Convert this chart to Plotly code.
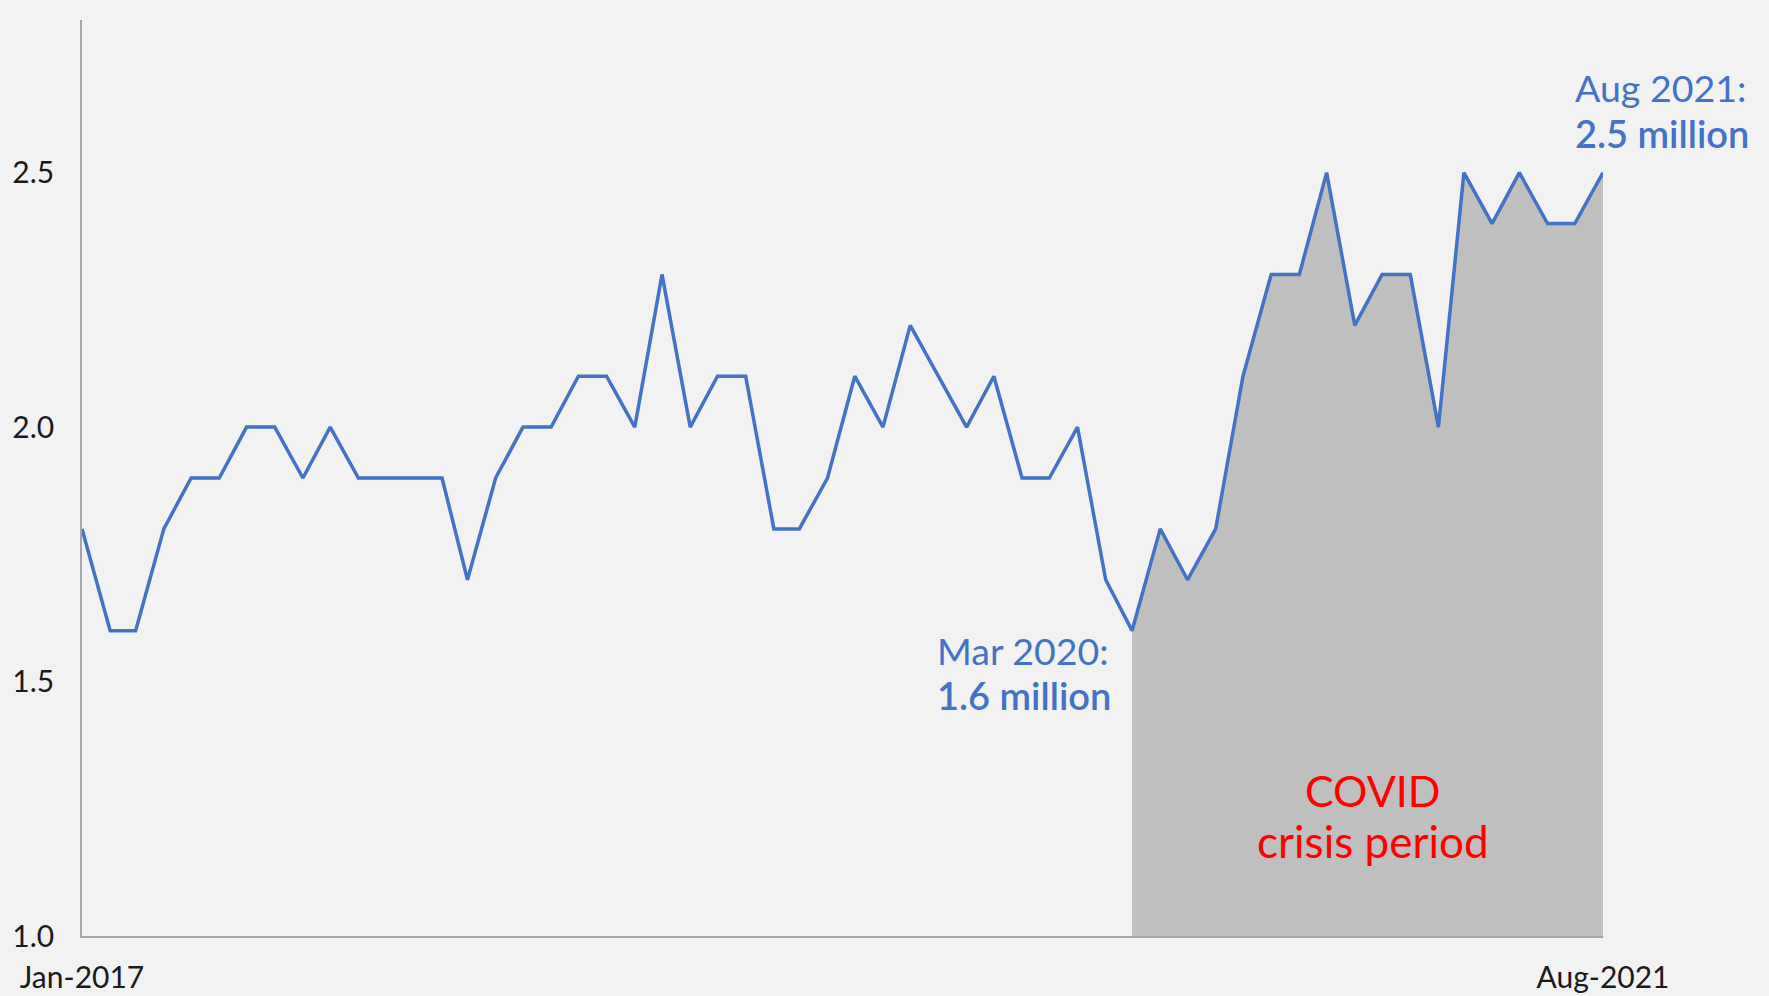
import plotly.graph_objects as go
import pandas as pd

# ---- data ----
months = pd.date_range("2017-01-01", "2021-08-01", freq="MS").strftime("%Y-%m-%d").tolist()
values = [1.8, 1.6, 1.6, 1.8, 1.9, 1.9, 2.0, 2.0, 1.9, 2.0, 1.9, 1.9,
          1.9, 1.9, 1.7, 1.9, 2.0, 2.0, 2.1, 2.1, 2.0, 2.3, 2.0, 2.1,
          2.1, 1.8, 1.8, 1.9, 2.1, 2.0, 2.2, 2.1, 2.0, 2.1, 1.9, 1.9,
          2.0, 1.7, 1.6, 1.8, 1.7, 1.8, 2.1, 2.3, 2.3, 2.5, 2.2, 2.3,
          2.3, 2.0, 2.5, 2.4, 2.5, 2.4, 2.4, 2.5]
covid_start = "2020-03-01"
y_tickvals = [1.0, 1.5, 2.0, 2.5]
y_ticktext = ["1.0", "1.5", "2.0", "2.5"]
x_tickvals = ["2017-01-01", "2021-08-01"]
x_ticktext = ["Jan-2017", "Aug-2021"]

FONT = "Lato"
BLUE = "#4472C4"
BG = "#F2F2F2"

ci = months.index(covid_start)
fig = go.Figure()
fig.add_trace(go.Scatter(x=months[ci:], y=values[ci:], mode="lines",
                         line=dict(width=0), fill="tozeroy",
                         fillcolor="#BFBFBF", hoverinfo="skip", showlegend=False))
fig.add_trace(go.Scatter(x=months, y=values, mode="lines",
                         line=dict(color=BLUE, width=3.5), showlegend=False))

def ann(text, x, y, size, color, xanchor="left", weight=None):
    f = dict(family=FONT, size=size, color=color)
    if weight:
        f["weight"] = weight
    fig.add_annotation(text=text, x=x, y=y, xref="paper", yref="paper",
                       xanchor=xanchor, yanchor="middle", showarrow=False, font=f)

def py(pix):  # pixel y (from top) -> paper coords of plot area
    return (936 - pix) / (936 - 20)
def px(pix):
    return (pix - 82) / (1603 - 82)

ann("Mar 2020:", px(935), py(650), 37.5, BLUE)
ann("1.6 million", px(935), py(695), 38, BLUE, weight=600)
ann("Aug 2021:", px(1573), py(88), 37.5, BLUE)
ann("2.5 million", px(1573), py(133), 38, BLUE, weight=600)
ann("COVID", px(1373), py(790), 43, "#FF0000", xanchor="center")
ann("crisis period", px(1373), py(841), 44, "#FF0000", xanchor="center")

fig.update_layout(
    width=1769, height=996,
    margin=dict(l=82, r=166, t=20, b=60, autoexpand=False),
    paper_bgcolor=BG, plot_bgcolor=BG,
    font=dict(family=FONT, size=30, color="#1a1a1a"),
)
fig.update_xaxes(type="date", range=[months[0], months[-1]],
                 tickvals=x_tickvals, ticktext=x_ticktext,
                 showgrid=False, zeroline=False, automargin=False,
                 showline=True, linecolor="#A6A6A6", linewidth=1.5,
                 ticks="", ticklabelstandoff=14,
                 tickfont=dict(family=FONT, size=30, color="#1a1a1a"))
fig.update_yaxes(range=[1.0, 2.8], tickvals=y_tickvals, ticktext=y_ticktext,
                 showgrid=False, zeroline=False, automargin=False,
                 showline=True, linecolor="#A6A6A6", linewidth=1.5,
                 ticks="", ticklabelstandoff=20,
                 tickfont=dict(family=FONT, size=30, color="#1a1a1a"))

fig.write_html("out.html", config={"displayModeBar": False},
               post_script="document.body.style.margin='0';document.body.style.background='#F2F2F2';document.body.style.overflow='hidden';")
